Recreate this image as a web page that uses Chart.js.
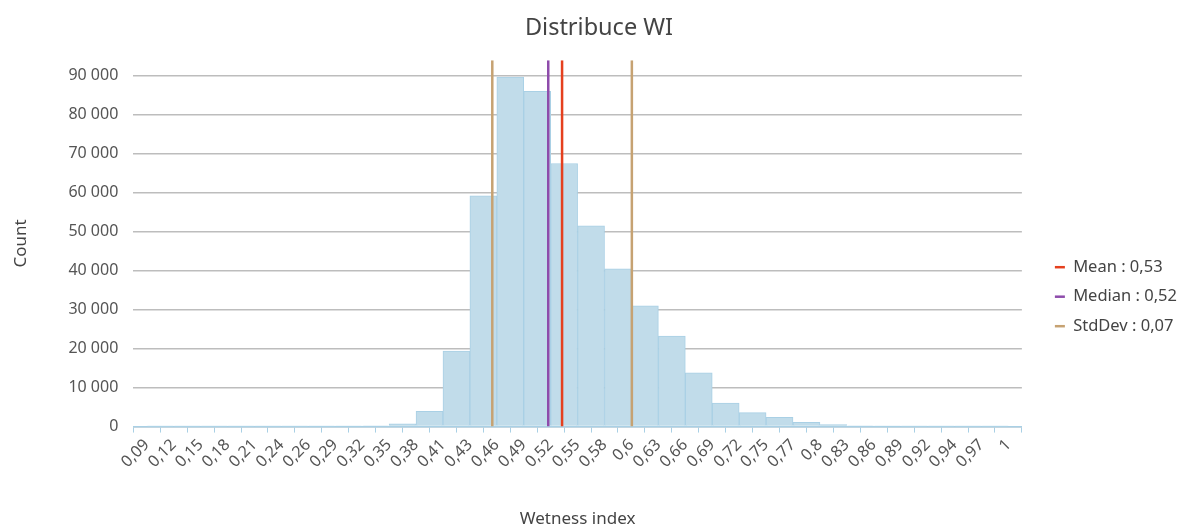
<!DOCTYPE html>
<html lang="cs">
<head>
    <meta charset="UTF-8">
    <title>Distribuce WI</title>
    <style>
        body { margin: 0; padding: 0; background: #fff; }
        #wrap { width: 1181px; height: 526px; position: relative; }
    </style>
</head>
<body>
    <div id="wrap"><canvas id="wiChart"></canvas></div>

    <script src="https://cdn.jsdelivr.net/npm/chart.js"></script>
    <script>
        // bin edges shown as tick labels (33 edges -> 32 bins)
        var tickLabels = ['0,09', '0,12', '0,15', '0,18', '0,21', '0,24', '0,26', '0,29', '0,32', '0,35',
            '0,38', '0,41', '0,43', '0,46', '0,49', '0,52', '0,55', '0,58', '0,6', '0,63', '0,66',
            '0,69', '0,72', '0,75', '0,77', '0,8', '0,83', '0,86', '0,89', '0,92', '0,94', '0,97', '1'];

        // counts per bin
        var counts = [50, 50, 50, 50, 50, 60, 80, 120, 200, 700, 3900, 19400, 59200, 89700, 86000, 67500,
            51500, 40500, 31000, 23200, 13800, 6000, 3600, 2400, 1100, 500, 200, 100, 60, 50, 50, 50];

        var yTicks = [0, 10000, 20000, 30000, 40000, 50000, 60000, 70000, 80000, 90000];

        var xStart = 0.09;
        var xEnd = 1;
        var meanValue = 0.5286;
        var medianValue = 0.514;
        var stdValue = 0.0737;
        var yTop = 94000;

        var binWidth = (xEnd - xStart) / counts.length;
        function toBin(v) { return (v - xStart) / binWidth; }

        var barData = counts.map(function (c, i) { return { x: i + 0.5, y: c }; });
        function vline(v) { return [{ x: toBin(v), y: 0 }, { x: toBin(v), y: yTop }]; }

        function fmt(v) { return String(v).replace(/\B(?=(\d{3})+(?!\d))/g, ' '); }

        var font = "'Noto Sans', 'Open Sans', sans-serif";

        var ctx = document.getElementById('wiChart').getContext('2d');
        var wiChart = new Chart(ctx, {
            type: 'bar',
            data: {
                datasets: [
                    {
                        type: 'line', label: 'Mean : 0,53', data: vline(meanValue),
                        borderColor: '#e5401e', borderWidth: 2.5, pointRadius: 0, order: 0
                    },
                    {
                        type: 'line', label: 'Median : 0,52', data: vline(medianValue),
                        borderColor: '#8e4cab', borderWidth: 2.5, pointRadius: 0, order: 0
                    },
                    {
                        type: 'line', label: 'StdDev : 0,07', data: vline(meanValue - stdValue),
                        borderColor: '#c6a272', borderWidth: 2.5, pointRadius: 0, order: 0
                    },
                    {
                        type: 'line', label: 'StdDev+', data: vline(meanValue + stdValue),
                        borderColor: '#c6a272', borderWidth: 2.5, pointRadius: 0, order: 0
                    },
                    {
                        label: 'Count', data: barData,
                        backgroundColor: '#c1dcea', borderColor: '#a9d0e5', borderWidth: 1,
                        barPercentage: 1, categoryPercentage: 1, order: 1
                    }
                ]
            },
            options: {
                responsive: true,
                maintainAspectRatio: false,
                animation: false,
                layout: { padding: { left: 11, right: -6, top: 0, bottom: -3 } },
                plugins: {
                    title: {
                        display: true, text: 'Distribuce WI', color: '#444',
                        font: { family: font, size: 23.5, weight: 'normal' },
                        padding: { top: 14, bottom: 18 }
                    },
                    legend: {
                        position: 'right',
                        title: { display: true, text: ' ', padding: { top: 50, bottom: 0 } },
                        labels: {
                            color: '#444', font: { family: font, size: 16.5 },
                            usePointStyle: true, pointStyle: 'line', pointStyleWidth: 10, padding: 13,
                            filter: function (item) { return item.text !== 'StdDev+' && item.text !== 'Count'; }
                        }
                    },
                    tooltip: { enabled: false }
                },
                scales: {
                    x: {
                        type: 'linear', min: 0, max: counts.length,
                        afterBuildTicks: function (scale) {
                            scale.ticks = tickLabels.map(function (l, i) { return { value: i }; });
                        },
                        ticks: {
                            autoSkip: false, minRotation: 45, maxRotation: 45, color: '#555',
                            font: { family: font, size: 16 },
                            callback: function (v) { return tickLabels[v]; }
                        },
                        grid: { drawOnChartArea: false, color: '#a9d0e5', tickLength: 6 },
                        border: { color: '#a9d0e5', width: 1.5 },
                        title: {
                            display: true, text: 'Wetness index', color: '#444',
                            font: { family: font, size: 17 }, padding: { top: 34, bottom: 0 }
                        }
                    },
                    y: {
                        min: 0, max: yTop,
                        afterBuildTicks: function (scale) {
                            scale.ticks = yTicks.map(function (v) { return { value: v }; });
                        },
                        ticks: {
                            color: '#555', padding: 15,
                            font: { family: font, size: 16 },
                            callback: function (v) { return fmt(v); }
                        },
                        grid: { color: '#bdbdbd', lineWidth: 1.5, drawTicks: false },
                        border: { display: false },
                        title: {
                            display: true, text: 'Count', color: '#444',
                            font: { family: font, size: 17 }, padding: { top: 0, bottom: 22 }
                        }
                    },
                    gap: {
                        position: 'right', display: true,
                        grid: { display: false }, ticks: { display: false }, border: { display: false },
                        afterFit: function (scale) { scale.width = 20; }
                    }
                }
            }
        });
    </script>
</body>
</html>
